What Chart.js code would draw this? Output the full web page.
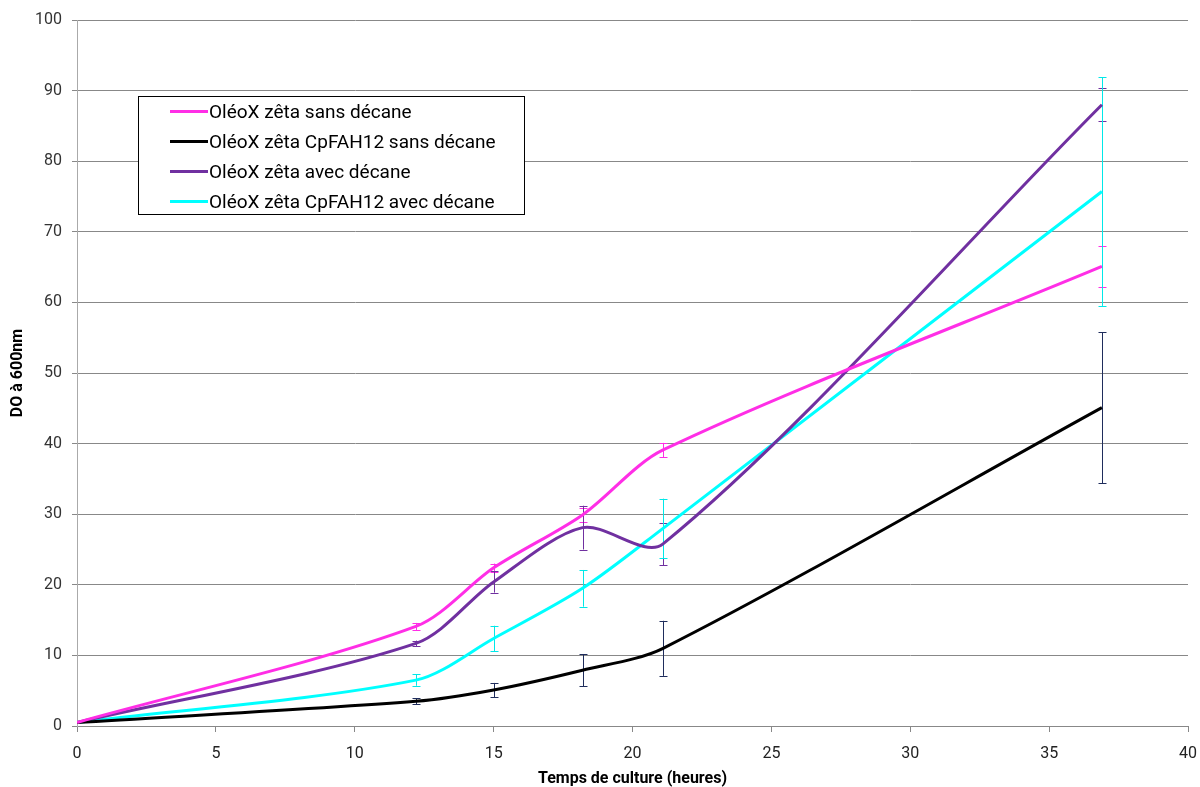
<!DOCTYPE html>
<html>
<head>
<meta charset="utf-8">
<script src="https://cdn.jsdelivr.net/npm/chart.js@4.4.1/dist/chart.umd.min.js"></script>
<style>
    body { margin: 0; background: #fff; }
    #wrap { position: relative; width: 1200px; height: 787px; }
    #legende {
        position: absolute; left: 138px; top: 96px; width: 385px; height: 117px;
        border: 1px solid #000; background: #fff;
        font-family: Roboto, sans-serif; font-size: 19px; color: #000;
    }
    .ligne { position: absolute; left: 0; height: 30px; line-height: 30px; white-space: nowrap; }
    .ligne span.trait { position: absolute; left: 31px; top: 13px; width: 38px; height: 3px; }
    .ligne span.txt { position: absolute; left: 70px; }
</style>
</head>
<body>
<div id="wrap">
    <canvas id="graphique" width="1200" height="787"></canvas>
    <div id="legende"></div>
</div>
<script>
// Temps de culture (heures)
const temps = [0, 12.2, 15, 18.2, 21.1, 36.9];

// DO à 600nm, moyennes
const zetaSans = [0.5, 14.1, 22.4, 29.9, 39.1, 65.1];
const zetaCpSans = [0.5, 3.5, 5.1, 7.9, 11.0, 45.1];
const zetaAvec = [0.5, 11.7, 20.4, 28.1, 25.8, 88.0];
const zetaCpAvec = [0.5, 6.5, 12.4, 19.5, 28.0, 75.7];

// écarts-types (barres d'erreur)
const errZetaSans = [0, 0.5, 0.6, 1.0, 1.0, 2.9];
const errZetaCpSans = [0, 0.4, 1.0, 2.3, 3.9, 10.7];
const errZetaAvec = [0, 0.4, 1.5, 3.1, 3.0, 2.3];
const errZetaCpAvec = [0, 0.8, 1.8, 2.6, 4.2, 16.2];

const ticksX = [0, 5, 10, 15, 20, 25, 30, 35, 40];
const ticksY = [0, 10, 20, 30, 40, 50, 60, 70, 80, 90, 100];

const series = [
    { nom: 'OléoX zêta sans décane', valeurs: zetaSans, erreurs: errZetaSans, couleur: '#ff2ee6', couleurErr: '#ff2ee6' },
    { nom: 'OléoX zêta CpFAH12 sans décane', valeurs: zetaCpSans, erreurs: errZetaCpSans, couleur: '#000000', couleurErr: '#1f2d5c' },
    { nom: 'OléoX zêta avec décane', valeurs: zetaAvec, erreurs: errZetaAvec, couleur: '#7030a0', couleurErr: '#7030a0' },
    { nom: 'OléoX zêta CpFAH12 avec décane', valeurs: zetaCpAvec, erreurs: errZetaCpAvec, couleur: '#00ffff', couleurErr: '#00e8e8' }
];

// Légende
const legende = document.getElementById('legende');
series.forEach(function (s, i) {
    const div = document.createElement('div');
    div.className = 'ligne';
    div.style.top = (i * 30) + 'px';
    div.innerHTML = '<span class="trait" style="background:' + s.couleur + '"></span><span class="txt"></span>';
    div.querySelector('.txt').textContent = s.nom;
    legende.appendChild(div);
});

// Barres d'erreur
const barresErreur = {
    id: 'barresErreur',
    beforeDatasetsDraw(chart) {
        const ctx = chart.ctx;
        const sx = chart.scales.x, sy = chart.scales.y;
        ctx.save();
        ctx.lineWidth = 1;
        series.forEach(function (s) {
            ctx.strokeStyle = s.couleurErr;
            temps.forEach(function (t, i) {
                const e = s.erreurs[i];
                if (!e) return;
                const px = Math.round(sx.getPixelForValue(t)) + 0.5;
                const haut = sy.getPixelForValue(s.valeurs[i] + e);
                const bas = sy.getPixelForValue(s.valeurs[i] - e);
                ctx.beginPath();
                ctx.moveTo(px, haut); ctx.lineTo(px, bas);
                ctx.moveTo(px - 4, Math.round(haut) + 0.5); ctx.lineTo(px + 4, Math.round(haut) + 0.5);
                ctx.moveTo(px - 4, Math.round(bas) + 0.5); ctx.lineTo(px + 4, Math.round(bas) + 0.5);
                ctx.stroke();
            });
        });
        ctx.restore();
    }
};

const police = 'Roboto, sans-serif';

const ctx = document.getElementById('graphique').getContext('2d');
new Chart(ctx, {
    type: 'line',
    data: {
        datasets: series.map(function (s) {
            return {
                label: s.nom,
                data: temps.map(function (t, i) { return { x: t, y: s.valeurs[i] }; }),
                borderColor: s.couleur,
                backgroundColor: s.couleur,
                borderWidth: 3,
                pointRadius: 0,
                tension: 0.3,
                fill: false
            };
        })
    },
    options: {
        responsive: false,
        animation: false,
        layout: { padding: { top: 20, right: 12, left: 0, bottom: 0 } },
        plugins: { legend: { display: false }, tooltip: { enabled: false } },
        scales: {
            x: {
                type: 'linear', min: 0, max: 40,
                afterBuildTicks: function (axis) { axis.ticks = ticksX.map(function (v) { return { value: v }; }); },
                afterFit: function (axis) { axis.height = 61; axis.paddingLeft = 0; axis.paddingRight = 0; },
                grid: { drawOnChartArea: false, tickLength: 6, tickColor: '#888' },
                border: { color: '#888' },
                ticks: { color: '#222', font: { family: police, size: 16 }, padding: 12, maxRotation: 0 },
                title: { display: true, text: 'Temps de culture (heures)', color: '#000', font: { family: police, size: 16, weight: 'bold' }, padding: { top: 3, bottom: -2 } }
            },
            y: {
                min: 0, max: 100,
                afterBuildTicks: function (axis) { axis.ticks = ticksY.map(function (v) { return { value: v }; }); },
                afterFit: function (axis) { axis.width = 77; },
                grid: { color: '#888', tickLength: 5, tickColor: '#888' },
                border: { color: '#aaa' },
                ticks: { color: '#333', font: { family: police, size: 16 }, padding: 10 },
                title: { display: true, text: 'DO à 600nm', color: '#000', font: { family: police, size: 16, weight: 'bold' }, padding: { top: 8, bottom: 0 } }
            }
        }
    },
    plugins: [barresErreur]
});
</script>
</body>
</html>
